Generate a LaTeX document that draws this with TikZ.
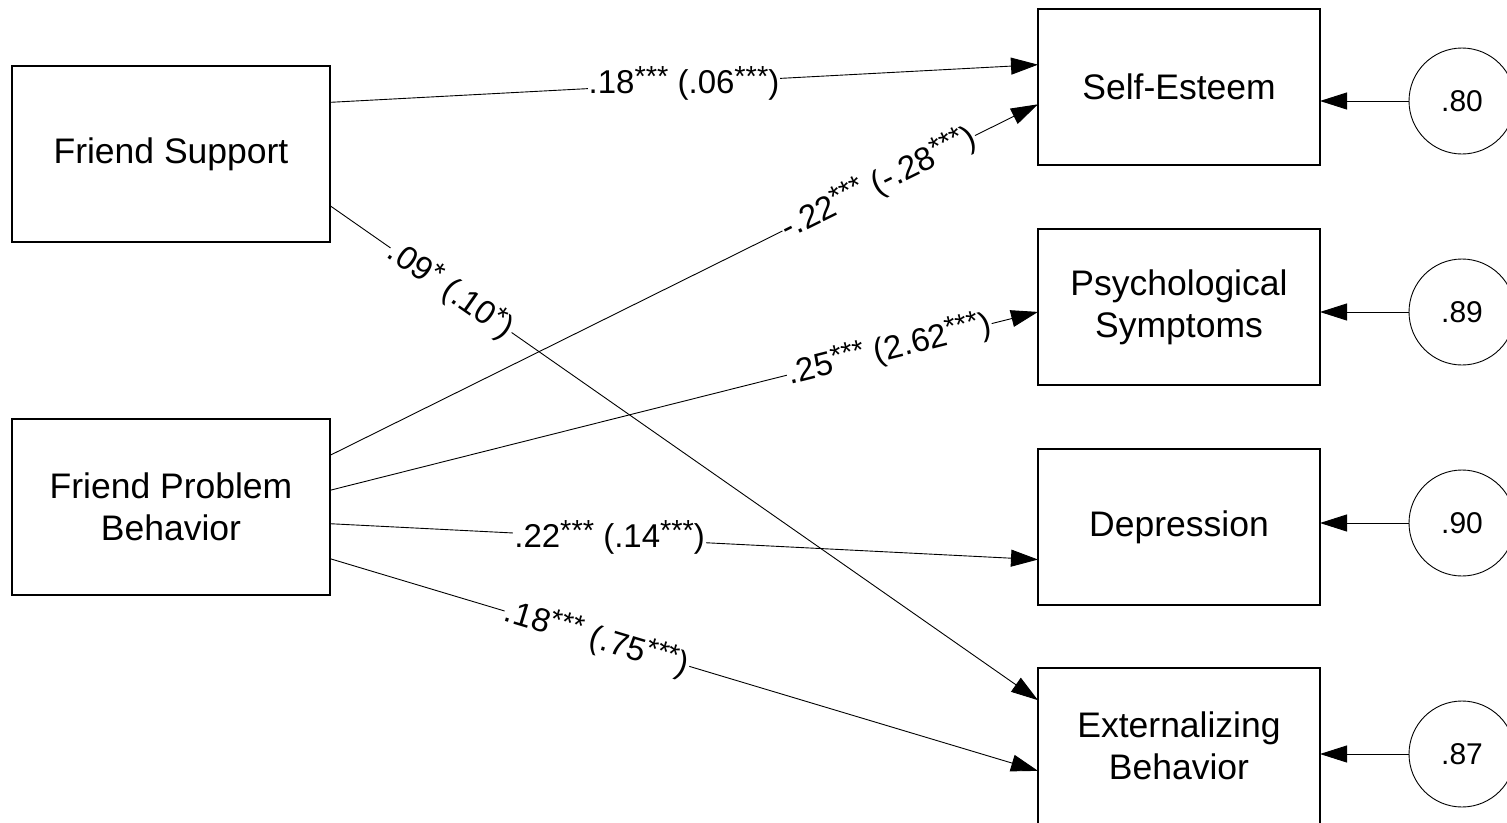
\documentclass[tikz,border=0pt]{standalone}
\usepackage{fontspec}
\setmainfont{Liberation Sans}
\usetikzlibrary{arrows.meta}
\newcommand{\stars}[1]{\raisebox{7pt}{\fontsize{29}{30}\selectfont #1}}
\begin{document}
\begin{tikzpicture}[x=1pt,y=-1pt,
    box/.style={draw,line width=1.2pt,minimum width=282pt,minimum height=156pt,inner sep=2pt,outer sep=0pt,align=center,font=\fontsize{35.5}{42}\selectfont},
    res/.style={draw,circle,line width=0.9pt,minimum size=106pt,inner sep=0pt,outer sep=0pt,font=\fontsize{30}{36}\selectfont},
    effect/.style={line width=0.9pt,-{Triangle[length=27pt,width=17pt]}},
    coef/.style={fill=white,inner sep=1pt,font=\fontsize{33}{40}\selectfont}]
  \useasboundingbox (0,0) rectangle (1507,822);
  \clip (0,0) rectangle (1507,822);
  \node[box,minimum width=318pt,minimum height=176pt] (fs) at (171,154) {Friend Support};
  \node[box,minimum width=318pt,minimum height=176pt] (fpb) at (171,507) {Friend Problem\\Behavior};
  \node[box] (se) at (1179,87) {Self-Esteem};
  \node[box] (ps) at (1179,307) {Psychological\\Symptoms};
  \node[box] (dep) at (1179,527) {Depression};
  \node[box] (ext) at (1179,746) {Externalizing\\Behavior};
  \node[res] (e1) at (1462,101) {.80};
  \node[res] (e2) at (1462,312) {.89};
  \node[res] (e3) at (1462,523) {.90};
  \node[res] (e4) at (1462,754) {.87};
  \draw[effect] (fs.18.8) -- node[coef] {.18\stars{***} (.06\stars{***})} (se.171.9);
  \draw[effect] (fs.-18.4) -- node[coef,sloped,pos=0.171] {.09\stars{*} (.10\stars{*})} (ext.162);
  \draw[effect] (fpb.18.1) -- node[coef,sloped,pos=0.775] {-.22\stars{***} (-.28\stars{***})} (se.-173.9);
  \draw[effect] (fpb.6.5) -- node[coef,sloped,pos=0.79] {.25\stars{***} (2.62\stars{***})} (ps.182.4);
  \draw[effect] (fpb.-6.1) -- node[coef,pos=0.395] {.22\stars{***} (.14\stars{***})} (dep.193.2);
  \draw[effect] (fpb.-18.4) -- node[coef,sloped,pos=0.377] {.18\stars{***} (.75\stars{***})} (ext.190.4);
  \draw[effect] (e1.west) -- (e1.west -| se.east);
  \draw[effect] (e2.west) -- (e2.west -| ps.east);
  \draw[effect] (e3.west) -- (e3.west -| dep.east);
  \draw[effect] (e4.west) -- (e4.west -| ext.east);
\end{tikzpicture}
\end{document}
